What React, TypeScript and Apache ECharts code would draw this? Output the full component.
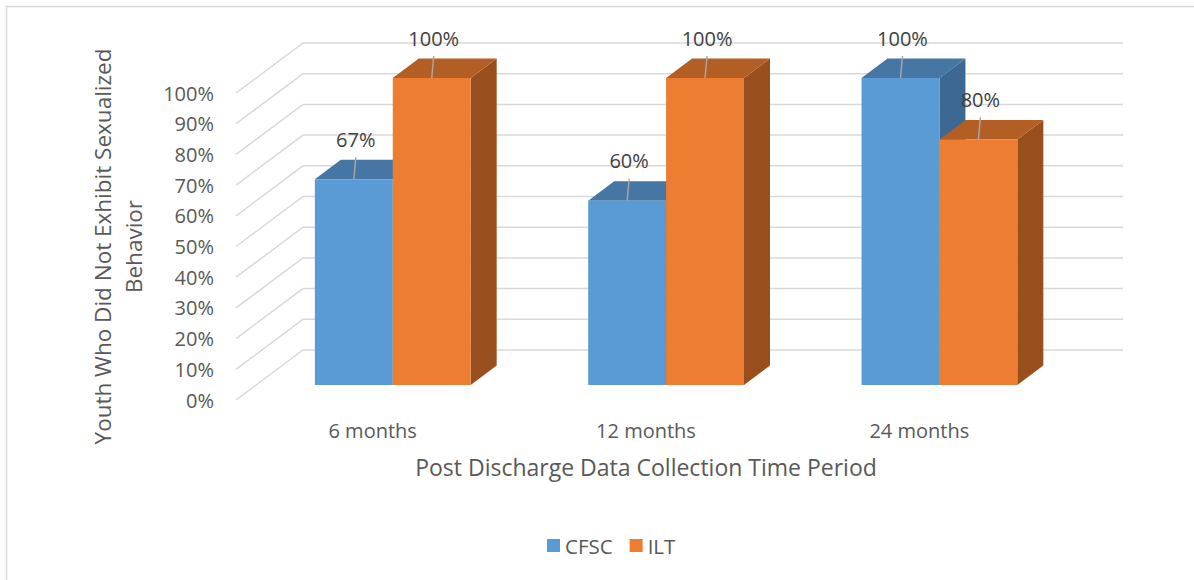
import React, { useEffect, useRef } from "react";
import * as echarts from "echarts";

const categories = ["6 months", "12 months", "24 months"];
const cfscValues = [0.67, 0.6, 1.0];
const iltValues = [1.0, 1.0, 0.8];
const yTicks = [0, 0.1, 0.2, 0.3, 0.4, 0.5, 0.6, 0.7, 0.8, 0.9, 1.0];

const FONT = '"Open Sans", "DejaVu Sans", sans-serif';
const TEXT_COLOR = "#595959";
const DEPTH_DX = 67;
const DEPTH_DY = -50;
const BAR_FRONT = 0.3;
const BAR_DEPTH_DX = 26;
const BAR_DEPTH_DY = -19.5;

const palettes = [
  { front: "#5B9BD5", top: "#4676A3", side: "#3C6893" },
  { front: "#ED7D31", top: "#B35E24", side: "#994E1D" },
];

function barRender(seriesPos: number) {
  return (params: any, api: any) => {
    const cat = api.value(0);
    const val = api.value(1);
    const base = api.coord([cat, 0]);
    const top = api.coord([cat, val]);
    const band = api.size([1, 0])[0];
    const bw = band * 0.285;
    const ox = BAR_FRONT * DEPTH_DX;
    const oy = BAR_FRONT * DEPTH_DY;
    const gc = base[0] + ox;
    const L = seriesPos === 0 ? gc - bw : gc;
    const R = L + bw;
    const B = base[1] + oy;
    const T = top[1] + oy;
    const dx = BAR_DEPTH_DX;
    const dy = BAR_DEPTH_DY;
    const pal = palettes[seriesPos];
    const cx = (L + R) / 2;
    return {
      type: "group",
      children: [
        {
          type: "polygon",
          shape: { points: [[R, T], [R + dx, T + dy], [R + dx, B + dy], [R, B]] },
          style: { fill: pal.side },
        },
        {
          type: "polygon",
          shape: { points: [[L, T], [L + dx, T + dy], [R + dx, T + dy], [R, T]] },
          style: { fill: pal.top },
        },
        {
          type: "rect",
          shape: { x: L, y: T, width: bw, height: B - T },
          style: { fill: pal.front },
        },
        {
          type: "line",
          shape: { x1: cx, y1: T, x2: cx + 2, y2: T - 22 },
          style: { stroke: "#A6A6A6", lineWidth: 1.5 },
        },
        {
          type: "text",
          style: {
            text: Math.round(val * 100) + "%",
            x: cx + 2,
            y: T - 40,
            align: "center",
            verticalAlign: "middle",
            fill: "#404040",
            fontSize: 20,
            fontFamily: FONT,
          },
        },
      ],
    };
  };
}

function gridRender(params: any, api: any) {
  const v = api.value(1);
  const y = api.coord([0, v])[1];
  const cs = params.coordSys;
  const x0 = cs.x;
  return {
    type: "polyline",
    shape: {
      points: [
        [x0, y],
        [x0 + DEPTH_DX, y + DEPTH_DY],
        [x0 + DEPTH_DX + cs.width, y + DEPTH_DY],
      ],
    },
    style: { stroke: "#D9D9D9", lineWidth: 1.5, fill: "none" },
  };
}

export default function App() {
  const ref = useRef<HTMLDivElement>(null);
  useEffect(() => {
    if (!ref.current) return;
    const chart = echarts.init(ref.current, undefined, { renderer: "svg" });
    chart.setOption({
      animation: false,
      backgroundColor: "#ffffff",
      textStyle: { fontFamily: FONT },
      graphic: [
        {
          type: "rect",
          shape: { x: 6.5, y: 6.5, width: 1400, height: 800 },
          style: { fill: "none", stroke: "#D9D9D9", lineWidth: 1.5 },
          silent: true,
        },
      ],
      legend: {
        data: ["CFSC", "ILT"],
        left: 542,
        top: 530,
        icon: "rect",
        itemWidth: 13,
        itemHeight: 13,
        itemGap: 17,
        textStyle: { fontSize: 20.5, color: TEXT_COLOR, fontFamily: FONT },
      },
      grid: { left: 236, top: 93, width: 820, height: 307 },
      xAxis: {
        type: "category",
        data: categories,
        axisLine: { show: false },
        axisTick: { show: false },
        axisLabel: { fontSize: 20, color: TEXT_COLOR, margin: 20, fontFamily: FONT },
        name: "Post Discharge Data Collection Time Period",
        nameLocation: "middle",
        nameGap: 55,
        nameTextStyle: { fontSize: 23, color: TEXT_COLOR, fontFamily: FONT },
      },
      yAxis: {
        type: "value",
        min: 0,
        max: 1,
        interval: 0.1,
        splitLine: { show: false },
        axisLine: { show: false },
        axisTick: { show: false },
        axisLabel: {
          fontSize: 20,
          color: TEXT_COLOR,
          margin: 22,
          fontFamily: FONT,
          formatter: (v: number) => Math.round(v * 100) + "%",
        },
        name: "Youth Who Did Not Exhibit Sexualized\nBehavior",
        nameLocation: "middle",
        nameRotate: 90,
        nameGap: 87,
        nameTextStyle: { fontSize: 22.5, color: TEXT_COLOR, fontFamily: FONT, lineHeight: 31 },
      },
      series: [
        {
          name: "grid",
          type: "custom",
          renderItem: gridRender,
          data: yTicks.map((t) => [0, t]),
          encode: { x: 0, y: 1 },
          silent: true,
          clip: false,
          z: 1,
        },
        {
          name: "CFSC",
          type: "custom",
          renderItem: barRender(0),
          data: cfscValues.map((v, i) => [i, v]),
          encode: { x: 0, y: 1 },
          itemStyle: { color: palettes[0].front },
          clip: false,
          z: 2,
        },
        {
          name: "ILT",
          type: "custom",
          renderItem: barRender(1),
          data: iltValues.map((v, i) => [i, v]),
          encode: { x: 0, y: 1 },
          itemStyle: { color: palettes[1].front },
          clip: false,
          z: 3,
        },
      ],
    });
    return () => chart.dispose();
  }, []);
  return (
    <div
      ref={ref}
      style={{ position: "fixed", left: 0, top: 0, width: 1194, height: 580 }}
    />
  );
}
